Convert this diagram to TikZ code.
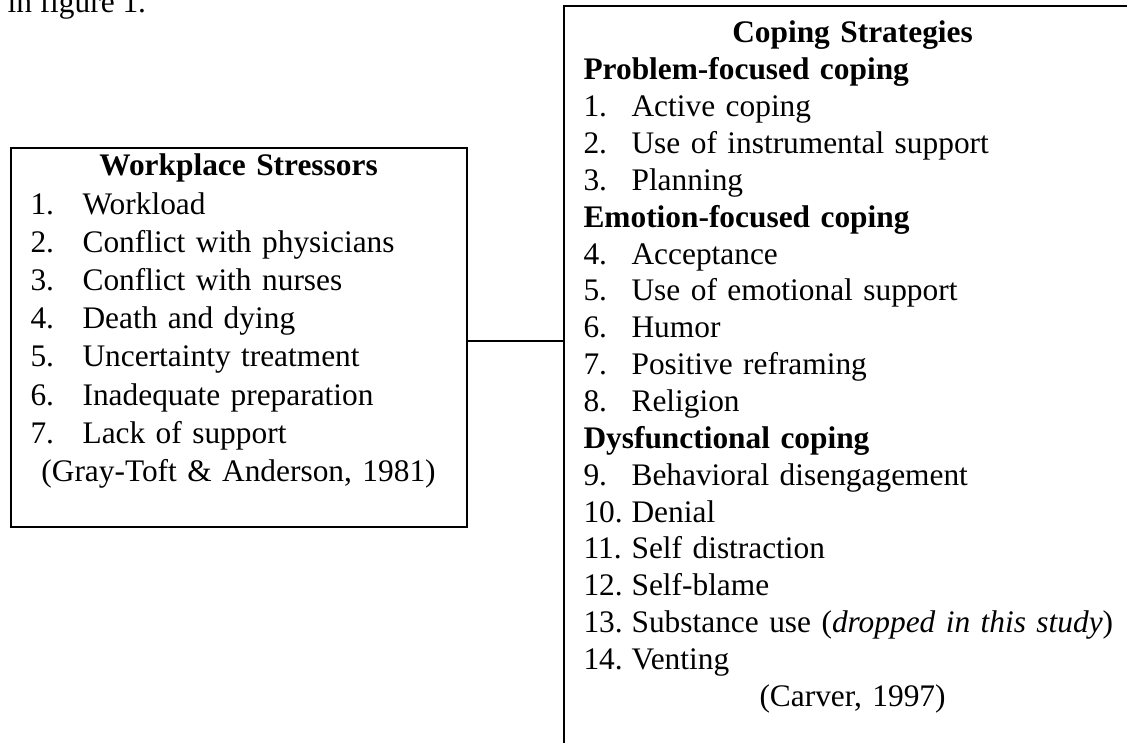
\documentclass[tikz,border=0pt]{standalone}
\usepackage{fontspec}
\setmainfont{Liberation Serif}
\usepackage{tikz}
\usetikzlibrary{positioning}
\tikzset{
  sbox/.style={draw=black, line width=0.75pt, inner sep=0pt, anchor=north west},
  slist/.style={anchor=base west, inner sep=0pt, align=left, font=\fontsize{11.75}{13.8}\selectfont},
  slink/.style={draw=black, line width=0.75pt}
}
\newcommand{\inum}[2][18pt]{\makebox[#1][l]{#2}}
\newcommand{\ctrline}[2][201.5pt]{\makebox[#1]{#2}}

\begin{document}
\begin{tikzpicture}[x=0.37453pt, y=-0.37453pt]
\useasboundingbox (0,0) rectangle (1127,743);
\clip (0,0) rectangle (1127,743);
\node[slist] (intro) at (7,13) {in figure 1.};
\node[sbox, minimum width=170.8pt, minimum height=141.9pt] (stress) at (10,147) {};
\node[sbox, minimum width=216.5pt, minimum height=337pt] (coping) at (563,5) {};
\node[slist, text width=155.8pt, font=\fontsize{11.75}{14.3}\selectfont] (stresslist) at ([shift={(20,29)}]stress.north west) {%
  \ctrline[155.8pt]{\textbf{Workplace Stressors}}\\
  \inum[19.5pt]{1.}Workload\\
  \inum[19.5pt]{2.}Conflict with physicians\\
  \inum[19.5pt]{3.}Conflict with nurses\\
  \inum[19.5pt]{4.}Death and dying\\
  \inum[19.5pt]{5.}Uncertainty treatment\\
  \inum[19.5pt]{6.}Inadequate preparation\\
  \inum[19.5pt]{7.}Lack of support\\
  \ctrline[155.8pt]{(Gray-Toft \& Anderson, 1981)}};
\node[slist, text width=240pt] (copinglist) at ([shift={(20,38)}]coping.north west) {%
  \ctrline{\textbf{Coping Strategies}}\\
  \textbf{Problem-focused coping}\\
  \inum{1.}Active coping\\
  \inum{2.}Use of instrumental support\\
  \inum{3.}Planning\\
  \textbf{Emotion-focused coping}\\
  \inum{4.}Acceptance\\
  \inum{5.}Use of emotional support\\
  \inum{6.}Humor\\
  \inum{7.}Positive reframing\\
  \inum{8.}Religion\\
  \textbf{Dysfunctional coping}\\
  \inum{9.}Behavioral disengagement\\
  \inum{10.}Denial\\
  \inum{11.}Self distraction\\
  \inum{12.}Self-blame\\
  \inum{13.}Substance use (\textit{dropped in this study})\\
  \inum{14.}Venting\\
  \ctrline{(Carver, 1997)}};
\coordinate (link) at (500,341);
\draw[slink] (stress.east |- link) -- (coping.west |- link);
\end{tikzpicture}
\end{document}
